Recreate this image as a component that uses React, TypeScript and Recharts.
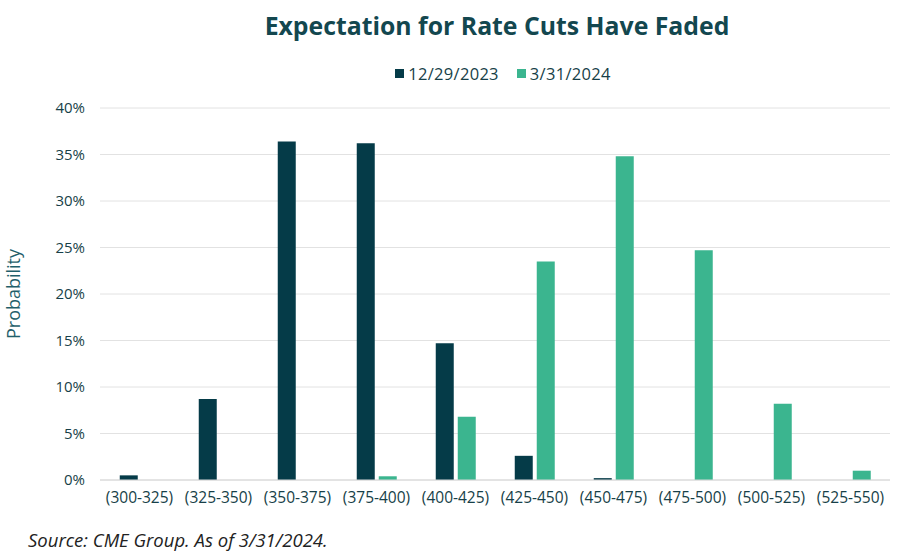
import React from 'react';
import { BarChart, Bar, XAxis, YAxis, CartesianGrid } from 'recharts';

const categories = ['(300-325)', '(325-350)', '(350-375)', '(375-400)', '(400-425)', '(425-450)', '(450-475)', '(475-500)', '(500-525)', '(525-550)'];
const dec2023 = [0.5, 8.7, 36.4, 36.2, 14.7, 2.6, 0.2, 0, 0, 0];
const mar2024 = [0, 0, 0, 0.4, 6.8, 23.5, 34.8, 24.7, 8.2, 1.0];
const yTicks = [0, 5, 10, 15, 20, 25, 30, 35, 40];

const DARK = '#053b48';
const GREEN = '#3bb58f';
const TEXT = '#173f48';
const FONT = '"Open Sans", "Noto Sans", sans-serif';

const data = categories.map((c, i) => ({ name: c, d2023: dec2023[i], d2024: mar2024[i] }));

function LegendBox() {
  const items = [
    { label: '12/29/2023', color: DARK },
    { label: '3/31/2024', color: GREEN },
  ];
  return (
    <div style={{
      position: 'absolute', left: 108, width: 790, top: 62,
      display: 'flex', justifyContent: 'center', gap: 18, fontSize: 16.5, color: TEXT, letterSpacing: 0.3
    }}>
      {items.map(it => (
        <div key={it.label} style={{ display: 'flex', alignItems: 'center', gap: 4 }}>
          <span style={{ width: 9, height: 9, background: it.color, display: 'inline-block' }} />
          <span>{it.label}</span>
        </div>
      ))}
    </div>
  );
}

export default function App() {
  return (
    <div style={{ position: 'absolute', left: 0, top: 0, width: 900, height: 558, background: '#fff', fontFamily: FONT }}>
      <div style={{
        position: 'absolute', left: 100, width: 794, top: 8, textAlign: 'center',
        fontSize: 24.8, fontWeight: 700, color: '#13474f'
      }}>
        Expectation for Rate Cuts Have Faded
      </div>
      <LegendBox />
      <BarChart
        width={900}
        height={558}
        data={data}
        margin={{ top: 108, right: 10, bottom: 0, left: 0 }}
        barCategoryGap="25%"
        barGap={4}
      >
        <CartesianGrid vertical={false} stroke="#e2e2e2" />
        <XAxis
          dataKey="name"
          height={78}
          interval={0}
          tickLine={false}
          axisLine={{ stroke: '#d6d6d6' }}
          tick={{ fill: TEXT, fontSize: 15.5, fontFamily: FONT }}
          tickMargin={6}
        />
        <YAxis
          width={100}
          domain={[0, 40]}
          ticks={yTicks}
          tickFormatter={(v: number) => `${v}%`}
          tickLine={false}
          axisLine={false}
          tick={{ fill: TEXT, fontSize: 15, fontFamily: FONT }}
          tickMargin={9}
          label={{ value: 'Probability', angle: -90, position: 'insideLeft', offset: 14, fill: '#1f5f6b', fontSize: 18, fontFamily: FONT, style: { textAnchor: 'middle' } }}
        />
        <Bar dataKey="d2023" name="12/29/2023" fill={DARK} isAnimationActive={false} />
        <Bar dataKey="d2024" name="3/31/2024" fill={GREEN} isAnimationActive={false} />
      </BarChart>
      <div style={{ position: 'absolute', left: 28, top: 527, fontSize: 18.5, fontStyle: 'italic', color: '#222' }}>
        Source: CME Group. As of 3/31/2024.
      </div>
    </div>
  );
}
